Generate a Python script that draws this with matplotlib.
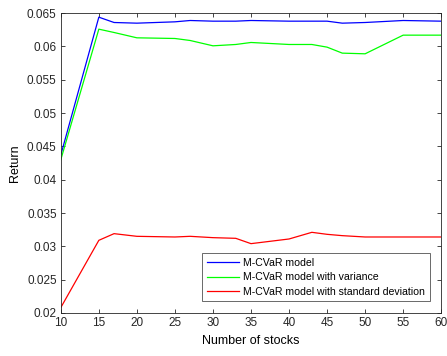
# Return vs number of stocks for three M-CVaR variants (MATLAB-style figure).
import matplotlib as mpl, matplotlib.pyplot as plt
from matplotlib.ticker import FuncFormatter, MultipleLocator

AX = "#262626"
mpl.rcParams.update({"font.family": ["Liberation Sans", "DejaVu Sans"], "font.size": 8,
    "axes.edgecolor": AX, "axes.linewidth": 0.6, "xtick.color": AX, "ytick.color": AX,
    "xtick.direction": "in", "ytick.direction": "in", "xtick.top": True, "ytick.right": True,
    "xtick.major.size": 3, "ytick.major.size": 3, "xtick.major.width": 0.6, "ytick.major.width": 0.6})

stocks = [10, 15, 17, 20, 25, 27, 30, 33, 35, 40, 43, 45, 47, 50, 55, 60]
mcvar = [0.0437, 0.0644, 0.0636, 0.0635, 0.0637, 0.0639, 0.0638, 0.0638, 0.0639, 0.0638,
         0.0638, 0.0638, 0.0635, 0.0636, 0.0639, 0.0638]
mcvar_var = [0.0430, 0.0626, 0.0621, 0.0613, 0.0612, 0.0609, 0.0601, 0.0603, 0.0606, 0.0603,
             0.0603, 0.0599, 0.0590, 0.0589, 0.0617, 0.0617]
mcvar_std = [0.0208, 0.0309, 0.0319, 0.0315, 0.0314, 0.0315, 0.0313, 0.0312, 0.0304, 0.0311,
             0.0321, 0.0318, 0.0316, 0.0314, 0.0314, 0.0314]

fig = plt.figure(figsize=(4.47, 3.56), dpi=100)
ax = fig.add_axes([0.136, 0.121, 0.851, 0.842])
ax.plot(stocks, mcvar, color="#0000FF", lw=0.9, label="M-CVaR model")
ax.plot(stocks, mcvar_var, color="#00FF00", lw=0.9, label="M-CVaR model with variance")
ax.plot(stocks, mcvar_std, color="#FF0000", lw=0.9, label="M-CVaR model with standard deviation")

ax.set_xlim(10, 60); ax.set_ylim(0.02, 0.065)
ax.xaxis.set_major_locator(MultipleLocator(5))
ax.yaxis.set_major_locator(MultipleLocator(0.005))
ax.yaxis.set_major_formatter(FuncFormatter(lambda v, _: f"{v:g}"))
ax.tick_params(labelsize=8.5, pad=3)
ax.set_xlabel("Number of stocks", fontsize=9)
ax.set_ylabel("Return", fontsize=9)

leg = ax.legend(loc="lower right", fontsize=7.6, frameon=True, fancybox=False,
                borderaxespad=1.1, handlelength=3.1, handletextpad=0.4,
                labelspacing=0.45, borderpad=0.4)
leg.get_frame().set_edgecolor(AX); leg.get_frame().set_linewidth(0.6)

fig.savefig("out.png", dpi=100)
